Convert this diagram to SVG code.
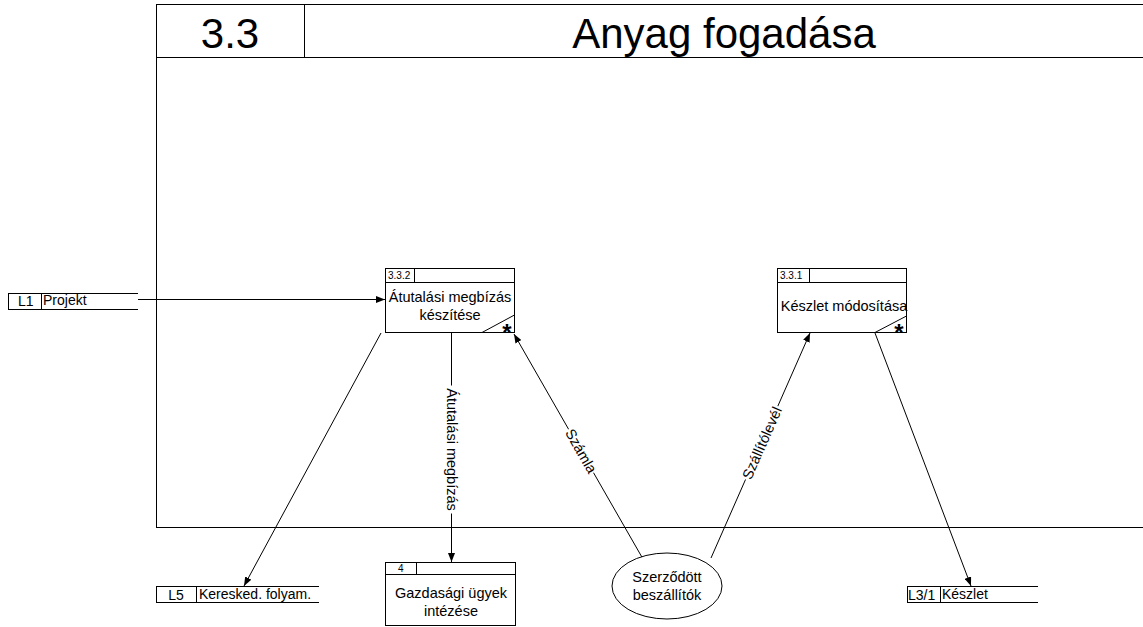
<svg xmlns="http://www.w3.org/2000/svg" width="1143" height="627" viewBox="0 0 1143 627">
  <style>
    .ln { fill: none; stroke: #000; stroke-width: 1; }
    .box { fill: #fff; stroke: #000; stroke-width: 1; }
    .t { font-family: "Liberation Sans", Arial, sans-serif; fill: #000; }
    .title { font-size: 42px; text-anchor: middle; }
    .id { font-size: 10px; }
    .nt { font-size: 14.5px; text-anchor: middle; }
    .st { font-size: 14px; }
    .lbl { font-size: 14.5px; text-anchor: middle; }
    .star { font-size: 24px; font-weight: bold; text-anchor: middle; }
  </style>
  <defs>
    <marker id="arrow" markerUnits="userSpaceOnUse" markerWidth="9" markerHeight="7" refX="9" refY="3.5" orient="auto">
      <path d="M0,0 L9,3.5 L0,7 z" fill="#000"/>
    </marker>
  </defs>
  <rect width="1143" height="627" fill="#fff"/>

  <!-- frame with title bar -->
  <g id="frame">
    <rect class="ln" x="156.5" y="4.5" width="1000" height="523"/>
    <line class="ln" x1="156.5" y1="57.5" x2="1156" y2="57.5"/>
    <line class="ln" x1="304.5" y1="4.5" x2="304.5" y2="57.5"/>
    <text class="t title" x="230" y="48">3.3</text>
    <text class="t title" x="724" y="48">Anyag fogadása</text>
  </g>

  <!-- connectors -->
  <g id="connectors">
    <line class="ln" x1="138" y1="299.5" x2="385" y2="299.5" marker-end="url(#arrow)"/>
    <line class="ln" x1="381" y1="333" x2="244" y2="586" marker-end="url(#arrow)"/>
    <line class="ln" x1="451.5" y1="333" x2="451.5" y2="562" marker-end="url(#arrow)"/>
    <line class="ln" x1="643" y1="559" x2="514" y2="334" marker-end="url(#arrow)"/>
    <line class="ln" x1="711" y1="558" x2="810" y2="333" marker-end="url(#arrow)"/>
    <line class="ln" x1="875" y1="333" x2="971" y2="586" marker-end="url(#arrow)"/>

    <g transform="translate(451.5,449.5) rotate(90)">
      <rect x="-64" y="-7" width="128" height="14" fill="#fff"/>
      <text class="t lbl" x="0" y="5">Átutalási megbízás</text>
    </g>
    <g transform="translate(581,451) rotate(60.2)">
      <rect x="-25" y="-7" width="50" height="14" fill="#fff"/>
      <text class="t lbl" x="0" y="5">Számla</text>
    </g>
    <g transform="translate(762,443) rotate(-66.2)">
      <rect x="-40" y="-7" width="80" height="14" fill="#fff"/>
      <text class="t lbl" x="0" y="5">Szállítólevél</text>
    </g>
  </g>

  <!-- process 3.3.2 -->
  <g id="p332">
    <rect class="box" x="385.5" y="268.5" width="129" height="64"/>
    <line class="ln" x1="385.5" y1="282.5" x2="514.5" y2="282.5"/>
    <line class="ln" x1="414.5" y1="268.5" x2="414.5" y2="282.5"/>
    <line class="ln" x1="482" y1="332.5" x2="514.5" y2="315"/>
    <text class="t id" x="388" y="279">3.3.2</text>
    <text class="t nt" x="450" y="302">Átutalási megbízás</text>
    <text class="t nt" x="450" y="320">készítése</text>
    <text class="t star" x="507" y="341">*</text>
  </g>

  <!-- process 3.3.1 -->
  <g id="p331">
    <rect class="box" x="777.5" y="268.5" width="129" height="64"/>
    <line class="ln" x1="777.5" y1="282.5" x2="906.5" y2="282.5"/>
    <line class="ln" x1="809.5" y1="268.5" x2="809.5" y2="282.5"/>
    <line class="ln" x1="875" y1="332.5" x2="906.5" y2="316"/>
    <text class="t id" x="780" y="279">3.3.1</text>
    <text class="t nt" x="844" y="311">Készlet módosítása</text>
    <text class="t star" x="899" y="341">*</text>
  </g>

  <!-- process 4 -->
  <g id="p4">
    <rect class="box" x="385.5" y="562.5" width="130" height="63"/>
    <line class="ln" x1="385.5" y1="574.5" x2="515.5" y2="574.5"/>
    <line class="ln" x1="416.5" y1="562.5" x2="416.5" y2="574.5"/>
    <text class="t id" x="398" y="572">4</text>
    <text class="t nt" x="451" y="598">Gazdasági ügyek</text>
    <text class="t nt" x="451" y="616">intézése</text>
  </g>

  <!-- external entity -->
  <g id="supplier">
    <ellipse class="box" cx="667" cy="586" rx="55" ry="33"/>
    <text class="t nt" x="667" y="582">Szerződött</text>
    <text class="t nt" x="667" y="600">beszállítók</text>
  </g>

  <!-- data store L1 -->
  <g id="L1">
    <line class="ln" x1="8" y1="293.5" x2="138" y2="293.5"/>
    <line class="ln" x1="8" y1="309.5" x2="138" y2="309.5"/>
    <line class="ln" x1="8.5" y1="293.5" x2="8.5" y2="309.5"/>
    <line class="ln" x1="41.5" y1="293.5" x2="41.5" y2="309.5"/>
    <text class="t st" x="18" y="306">L1</text>
    <text class="t st" x="43" y="305">Projekt</text>
  </g>

  <!-- data store L5 -->
  <g id="L5">
    <line class="ln" x1="156" y1="586.5" x2="319" y2="586.5"/>
    <line class="ln" x1="156" y1="602.5" x2="319" y2="602.5"/>
    <line class="ln" x1="156.5" y1="586.5" x2="156.5" y2="602.5"/>
    <line class="ln" x1="196.5" y1="586.5" x2="196.5" y2="602.5"/>
    <text class="t st" x="176" y="600" text-anchor="middle">L5</text>
    <text class="t st" x="199" y="599">Keresked. folyam.</text>
  </g>

  <!-- data store L3/1 -->
  <g id="L31">
    <line class="ln" x1="907" y1="586.5" x2="1038" y2="586.5"/>
    <line class="ln" x1="907" y1="602.5" x2="1038" y2="602.5"/>
    <line class="ln" x1="907.5" y1="586.5" x2="907.5" y2="602.5"/>
    <line class="ln" x1="940.5" y1="586.5" x2="940.5" y2="602.5"/>
    <text class="t st" x="908" y="600">L3/1</text>
    <text class="t st" x="942" y="599">Készlet</text>
  </g>
</svg>
